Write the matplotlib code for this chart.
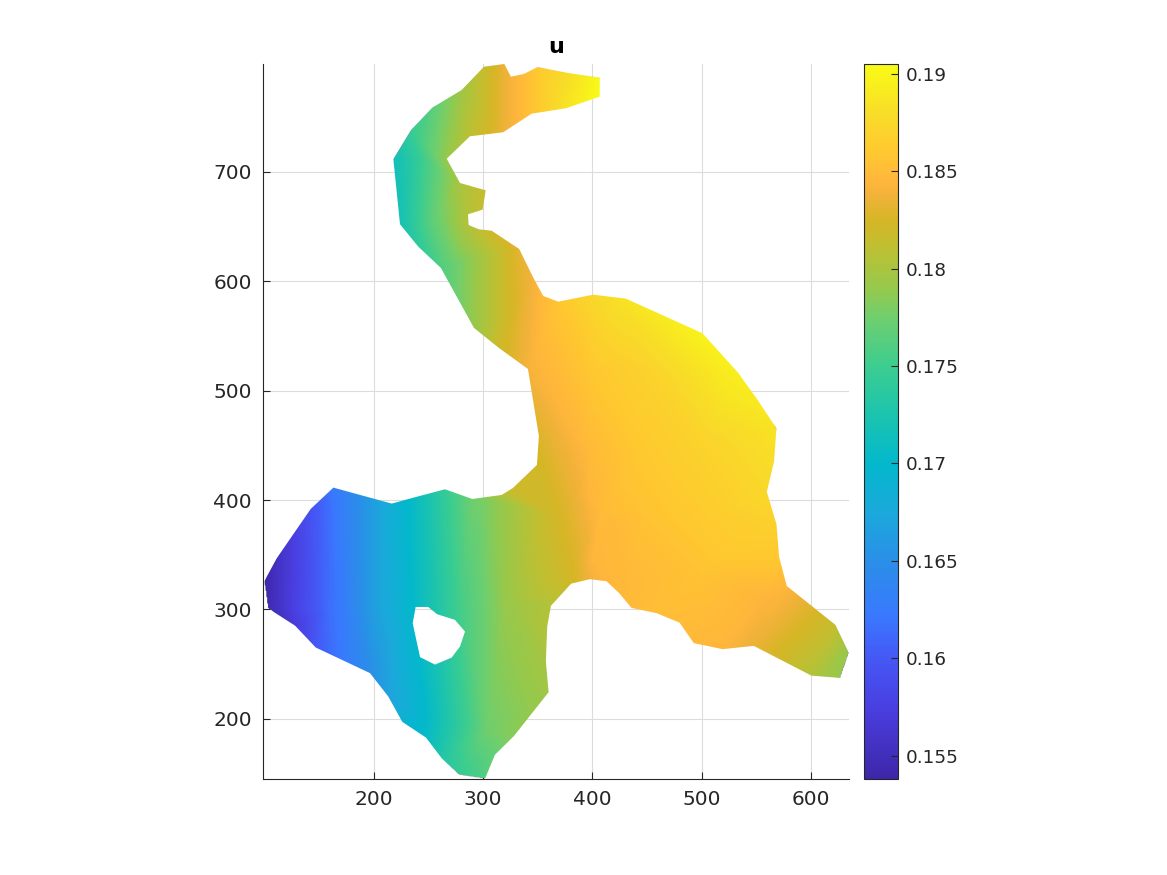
import numpy as np
import matplotlib
matplotlib.use("Agg")
import matplotlib.pyplot as plt
import matplotlib.tri as mtri
from matplotlib.colors import LinearSegmentedColormap
from matplotlib.path import Path
from matplotlib.patches import PathPatch

# outer boundary of the domain
outer_x = [300.9, 319.5, 325.6, 337.4, 349.9, 379.4, 406.8, 406.6, 375.8, 344.5, 318.5, 288.1, 266.9, 279, 302.5,
           299.7, 286.3, 286.9, 296.1, 307.9, 333.1, 346.6, 355.1, 368.8, 400.7, 430.6, 500.6, 533.1, 549.9, 568.2,
           566, 559.4, 568.2, 570.6, 577.6, 622.1, 634.5, 626.7, 600.2, 547.5, 518.9, 492.7, 479.6, 458.6, 435.8,
           424.5, 412.9, 397.7, 380.6, 362.1, 358.7, 357.5, 360, 328.4, 310.9, 301.8, 278.1, 262.3, 247.9, 226.3,
           213.5, 196.8, 147.2, 128.3, 103.4, 100, 111.6, 142.6, 163.3, 216.6, 237.9, 265.3, 290.2, 317.1, 327.4,
           349.3, 351.1, 341.1, 314.6, 291.8, 261.6, 240.9, 224.2, 218.1, 234, 253.7, 280.5]
outer_y = [796.2, 798.7, 787.1, 789.6, 795.9, 790.2, 786.2, 768.8, 758.2, 753.3, 736.3, 732.6, 712.1, 689.9, 683.2,
           665.5, 661.3, 651.5, 647.6, 646.3, 629.6, 602.2, 586.6, 581.4, 587.8, 584.2, 552.5, 516.5, 493.1, 465.7,
           435.2, 407.5, 378, 348.3, 321.5, 285.9, 260, 237.4, 239.5, 266.7, 263.7, 269.2, 288, 296.6, 301.4,
           314.9, 325.8, 327.7, 323.6, 303.3, 284.3, 252.3, 224.4, 184.4, 167.1, 145.1, 148.8, 164, 182.9, 197.2,
           220.4, 241.8, 265.2, 285.2, 301.2, 325.5, 346.9, 391.9, 411.4, 396.8, 402.6, 409.9, 401, 404.7, 411.1,
           432.1, 458.7, 519.9, 539.1, 557.4, 612.2, 631.7, 652.2, 711.9, 738.1, 758.8, 774.9]

# the hole, listed against the outer direction
hole_x = [235.8, 242.5, 256.2, 271.4, 279, 283.6, 274.4, 258, 250, 238.5]
hole_y = [287.4, 256.4, 249.6, 256, 266.1, 279.8, 290.5, 295.7, 302.3, 302.3]

sample_x = [300.9, 319.5, 337.4, 349.9, 379.4, 406.8, 406.6, 375.8, 344.5, 318.5, 288.1, 266.9, 279, 302.5,
            299.7, 286.3, 286.9, 307.9, 333.1, 346.6, 355.1, 368.8,
            280.5, 253.7, 234, 218.1, 224.2, 240.9, 261.6, 291.8, 314.6, 341.1, 351.1, 349.3,
            242, 260, 252, 282, 316, 334,
            400.7, 430.6, 500.6, 533.1, 568.2, 559.4, 568.2, 570.6, 577.6, 622.1, 634.5, 626.7, 600.2,
            547.5, 518.9, 492.7, 479.6, 458.6, 435.8, 424.5, 412.9, 397.7, 380.6, 362.1,
            450, 500, 450, 400, 400, 500, 450, 500, 420, 361, 382, 382, 410, 431, 510, 556,
            358.7, 357.5, 360, 328.4, 310.9, 301.8, 278.1, 262.3, 247.9, 226.3, 213.5, 196.8,
            147.2, 128.3, 103.4, 100, 111.6, 142.6, 163.3, 216.6, 237.9, 265.3, 290.2, 317.1, 327.4,
            224, 235, 247, 170, 175, 302, 304, 320, 200, 280, 160, 130,
            397, 385, 400, 385]
sample_y = [796.2, 798.7, 789.6, 795.9, 790.2, 786.2, 768.8, 758.2, 753.3, 736.3, 732.6, 712.1, 689.9, 683.2,
            665.5, 661.3, 651.5, 646.3, 629.6, 602.2, 586.6, 581.4,
            774.9, 758.8, 738.1, 711.9, 652.2, 631.7, 612.2, 557.4, 539.1, 519.9, 458.7, 432.1,
            712, 712, 654, 654, 565, 565,
            587.8, 584.2, 552.5, 516.5, 465.7, 407.5, 378, 348.3, 321.5, 285.9, 260, 237.4, 239.5,
            266.7, 263.7, 269.2, 288, 296.6, 301.4, 314.9, 325.8, 327.7, 323.6, 303.3,
            450, 450, 520, 520, 450, 380, 380, 330, 380, 388, 464, 333, 388, 327, 348, 311,
            284.3, 252.3, 224.4, 184.4, 167.1, 145.1, 148.8, 164, 182.9, 197.2, 220.4, 241.8,
            265.2, 285.2, 301.2, 325.5, 346.9, 391.9, 411.4, 396.8, 402.6, 409.9, 401, 404.7, 411.1,
            400, 300, 200, 300, 400, 400, 190, 300, 300, 300, 300, 300,
            400, 400, 345, 345]
sample_u = [.1815, .1835, .185, .186, .188, .1905, .1905, .1885, .1855, .1835, .181, .179, .180, .1815,
            .1815, .1805, .1805, .182, .1832, .184, .1848, .1858,
            .1795, .1765, .1745, .1715, .172, .174, .176, .179, .182, .184, .1828, .1822,
            .1745, .178, .1765, .180, .1815, .1832,
            .1875, .1885, .1898, .1895, .1885, .1875, .1868, .186, .1845, .1815, .179, .179, .1805,
            .1835, .1845, .1848, .185, .1852, .1848, .1848, .1845, .1838, .182, .1805,
            .1862, .187, .187, .186, .185, .1862, .1855, .1855, .1848, .182, .1845, .1825, .185, .1848, .186, .1845,
            .1805, .1798, .1795, .1785, .177, .1762, .1745, .173, .1705, .169, .1668, .165,
            .160, .157, .1545, .154, .1555, .1595, .1625, .1685, .1708, .1745, .1775, .1805, .182,
            .170, .170, .170, .1625, .1635, .178, .1775, .179, .1665, .1755, .1615, .158,
            .1845, .1835, .1845, .1828]

cbar_ticks = [0.155, 0.16, 0.165, 0.17, 0.175, 0.18, 0.185, 0.19]
cbar_labels = ["0.155", "0.16", "0.165", "0.17", "0.175", "0.18", "0.185", "0.19"]
umin = 0.1538
umax = 0.1905

# colormap stops taken from the colorbar
stop_u = [0.1538, 0.1575, 0.160, 0.1621, 0.165, 0.1675, 0.170, 0.1725, 0.175, 0.1775, 0.179, 0.181, 0.1825,
          0.1838, 0.1845, 0.186, 0.188, 0.1905]
stop_c = ["#3d26a8", "#4a3fe2", "#4558f5", "#3a78ff", "#2a8fe8", "#1ba9db", "#03b8cc", "#1cc4ae", "#3ccd90",
          "#6fcf6e", "#96c94c", "#bdc033", "#d6b626", "#f2b23a", "#ffb63c", "#ffc830", "#f8dd28", "#f9fb15"]
cmap = LinearSegmentedColormap.from_list("par", [((u - umin) / (umax - umin), c) for u, c in zip(stop_u, stop_c)], N=512)

fig = plt.figure(figsize=(11.67, 8.75), dpi=100)
W, H = 1167.0, 875.0
ax = fig.add_axes([263 / W, 1 - 779 / H, 586 / W, 715 / H])
dark = "#262626"

tri = mtri.Triangulation(sample_x, sample_y)
interp = mtri.LinearTriInterpolator(tri, sample_u)
gx, gy = np.meshgrid(np.linspace(99, 635, 700), np.linspace(145, 799, 800))
gu = interp(gx, gy)
im = ax.imshow(gu, origin="lower", extent=[99, 635, 145, 799], cmap=cmap, vmin=umin, vmax=umax,
               interpolation="bilinear", aspect="auto", zorder=2)

verts = list(zip(outer_x, outer_y)) + [(outer_x[0], outer_y[0])] + list(zip(hole_x, hole_y)) + [(hole_x[0], hole_y[0])]
codes = ([Path.MOVETO] + [Path.LINETO] * (len(outer_x) - 1) + [Path.CLOSEPOLY]
         + [Path.MOVETO] + [Path.LINETO] * (len(hole_x) - 1) + [Path.CLOSEPOLY])
clip = PathPatch(Path(verts, codes), transform=ax.transData, facecolor="none", edgecolor="none")
ax.add_patch(clip)
im.set_clip_path(clip)

ax.set_xlim(99, 634.5)
ax.set_ylim(145, 798.7)
ax.set_xticks([200, 300, 400, 500, 600])
ax.set_yticks([200, 300, 400, 500, 600, 700])
ax.grid(True, color="#dcdcdc", linewidth=0.8)
ax.set_axisbelow(True)
ax.spines["top"].set_visible(False)
ax.spines["right"].set_visible(False)
for s in ["left", "bottom"]:
    ax.spines[s].set_color(dark)
    ax.spines[s].set_linewidth(0.8)
ax.tick_params(direction="in", length=5, width=0.8, color=dark, labelcolor=dark, labelsize=14.5, pad=8)
ax.set_title("u", fontsize=16, fontweight="bold", color="black", pad=8)

cax = fig.add_axes([864 / W, 1 - 779 / H, 34 / W, 715 / H])
cb = fig.colorbar(im, cax=cax)
cb.set_ticks(cbar_ticks)
cb.set_ticklabels(cbar_labels)
cb.ax.tick_params(direction="in", length=5, width=0.8, color=dark, labelcolor=dark, labelsize=13.2, pad=5.5)
cb.outline.set_edgecolor(dark)
cb.outline.set_linewidth(0.8)

fig.savefig("out.png", dpi=100)
